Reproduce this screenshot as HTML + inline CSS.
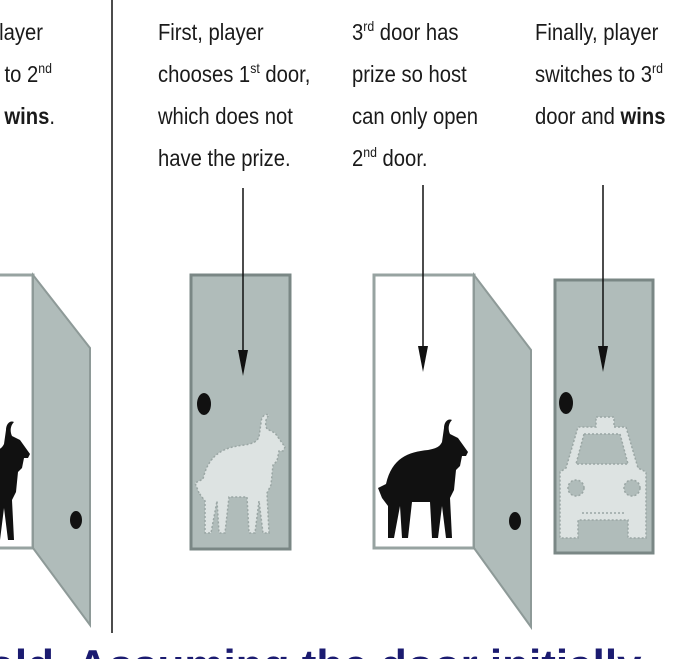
<!DOCTYPE html>
<html><head><meta charset="utf-8"><style>
html,body{margin:0;padding:0;background:#fff;width:675px;height:659px;overflow:hidden}
svg{display:block}
</style></head><body>
<svg width="675" height="659" viewBox="0 0 675 659" xmlns="http://www.w3.org/2000/svg">
<defs>
<path id="goat" d="M4 80 L0 70 L8 66 C14 40 30 34 50 32 C60 30 62 28 64 24 L66 10 C66 4 70 0 74 2 C70 6 70 12 72 16 L80 20 L90 34 L88 38 L84 38 L82 48 L78 52 L76 72 L72 80 L74 120 L68 120 L64 88 L60 120 L54 120 L52 84 L34 84 L30 120 L24 120 L22 88 L16 120 L10 120 L10 88 Z"/>
</defs>

<line x1="112" y1="0" x2="112" y2="633" stroke="#111" stroke-width="1.5"/>

<g font-family="Liberation Sans, Arial, sans-serif" font-size="23" fill="#1a1a1a" transform="scale(0.88,1)">
  <text x="48.9" y="40" text-anchor="end">layer</text>
  <text x="59.1" y="82" text-anchor="end">to 2<tspan font-size="14" dy="-9">nd</tspan></text>
  <text x="62.5" y="124" text-anchor="end"><tspan font-weight="bold">wins</tspan>.</text>

  <text x="179.5" y="40">First, player</text>
  <text x="179.5" y="82">chooses 1<tspan font-size="14" dy="-9">st</tspan><tspan dy="9"> door,</tspan></text>
  <text x="179.5" y="124">which does not</text>
  <text x="179.5" y="166">have the prize.</text>

  <text x="400" y="40">3<tspan font-size="14" dy="-9">rd</tspan><tspan dy="9"> door has</tspan></text>
  <text x="400" y="82">prize so host</text>
  <text x="400" y="124">can only open</text>
  <text x="400" y="166">2<tspan font-size="14" dy="-9">nd</tspan><tspan dy="9"> door.</tspan></text>

  <text x="608" y="40">Finally, player</text>
  <text x="608" y="82">switches to 3<tspan font-size="14" dy="-9">rd</tspan></text>
  <text x="608" y="124">door and <tspan font-weight="bold">wins</tspan></text>
</g>

<rect x="-5" y="275" width="38" height="273" fill="#fff" stroke="#97a3a1" stroke-width="3"/>
<use href="#goat" transform="translate(-60,420)" fill="#111"/>
<polygon points="33,275 90,348 90,625 33,548" fill="#b0bcba" stroke="#8e9a98" stroke-width="2"/>
<ellipse cx="76" cy="520" rx="6" ry="9" fill="#111"/>

<rect x="191" y="275" width="99" height="274" fill="#b0bcba" stroke="#7a8785" stroke-width="3"/>
<ellipse cx="204" cy="404" rx="7" ry="11" fill="#111"/>
<use href="#goat" transform="translate(195,413)" fill="#dde3e2" stroke="#9aa6a4" stroke-width="1.5" stroke-dasharray="2,2"/>
<line x1="243" y1="188" x2="243" y2="355" stroke="#111" stroke-width="1.5"/>
<polygon points="238,350 248,350 243,376" fill="#111"/>

<rect x="374" y="275" width="100" height="273" fill="#fff" stroke="#97a3a1" stroke-width="3"/>
<use href="#goat" transform="translate(378,418)" fill="#111"/>
<polygon points="474,275 531,350 531,627 474,548" fill="#b0bcba" stroke="#8e9a98" stroke-width="2"/>
<ellipse cx="515" cy="521" rx="6" ry="9" fill="#111"/>
<line x1="423" y1="185" x2="423" y2="350" stroke="#111" stroke-width="1.5"/>
<polygon points="418,346 428,346 423,372" fill="#111"/>

<rect x="555" y="280" width="98" height="273" fill="#b0bcba" stroke="#7a8785" stroke-width="3"/>
<ellipse cx="566" cy="403" rx="7" ry="11" fill="#111"/>
<g fill="#dde3e2" stroke="#9aa6a4" stroke-width="1.5" stroke-dasharray="2,2">
  <path d="M596 417 L614 417 L614 427 L626 427 L638 468 L646 472 L646 538 L628 538 L628 520 L578 520 L578 538 L560 538 L560 472 L566 468 L578 427 L596 427 Z"/>
  <path d="M584 434 L620 434 L628 464 L576 464 Z" fill="#b0bcba"/>
  <circle cx="576" cy="488" r="8" fill="#b0bcba"/>
  <circle cx="632" cy="488" r="8" fill="#b0bcba"/>
  <line x1="582" y1="513" x2="624" y2="513"/>
</g>
<line x1="603" y1="185" x2="603" y2="350" stroke="#111" stroke-width="1.5"/>
<polygon points="598,346 608,346 603,372" fill="#111"/>

<text x="-12" y="680" font-family="Liberation Sans, Arial, sans-serif" font-size="44" font-weight="bold" fill="#1b1b70">old. Assuming the door initially</text>
</svg>
</body></html>
